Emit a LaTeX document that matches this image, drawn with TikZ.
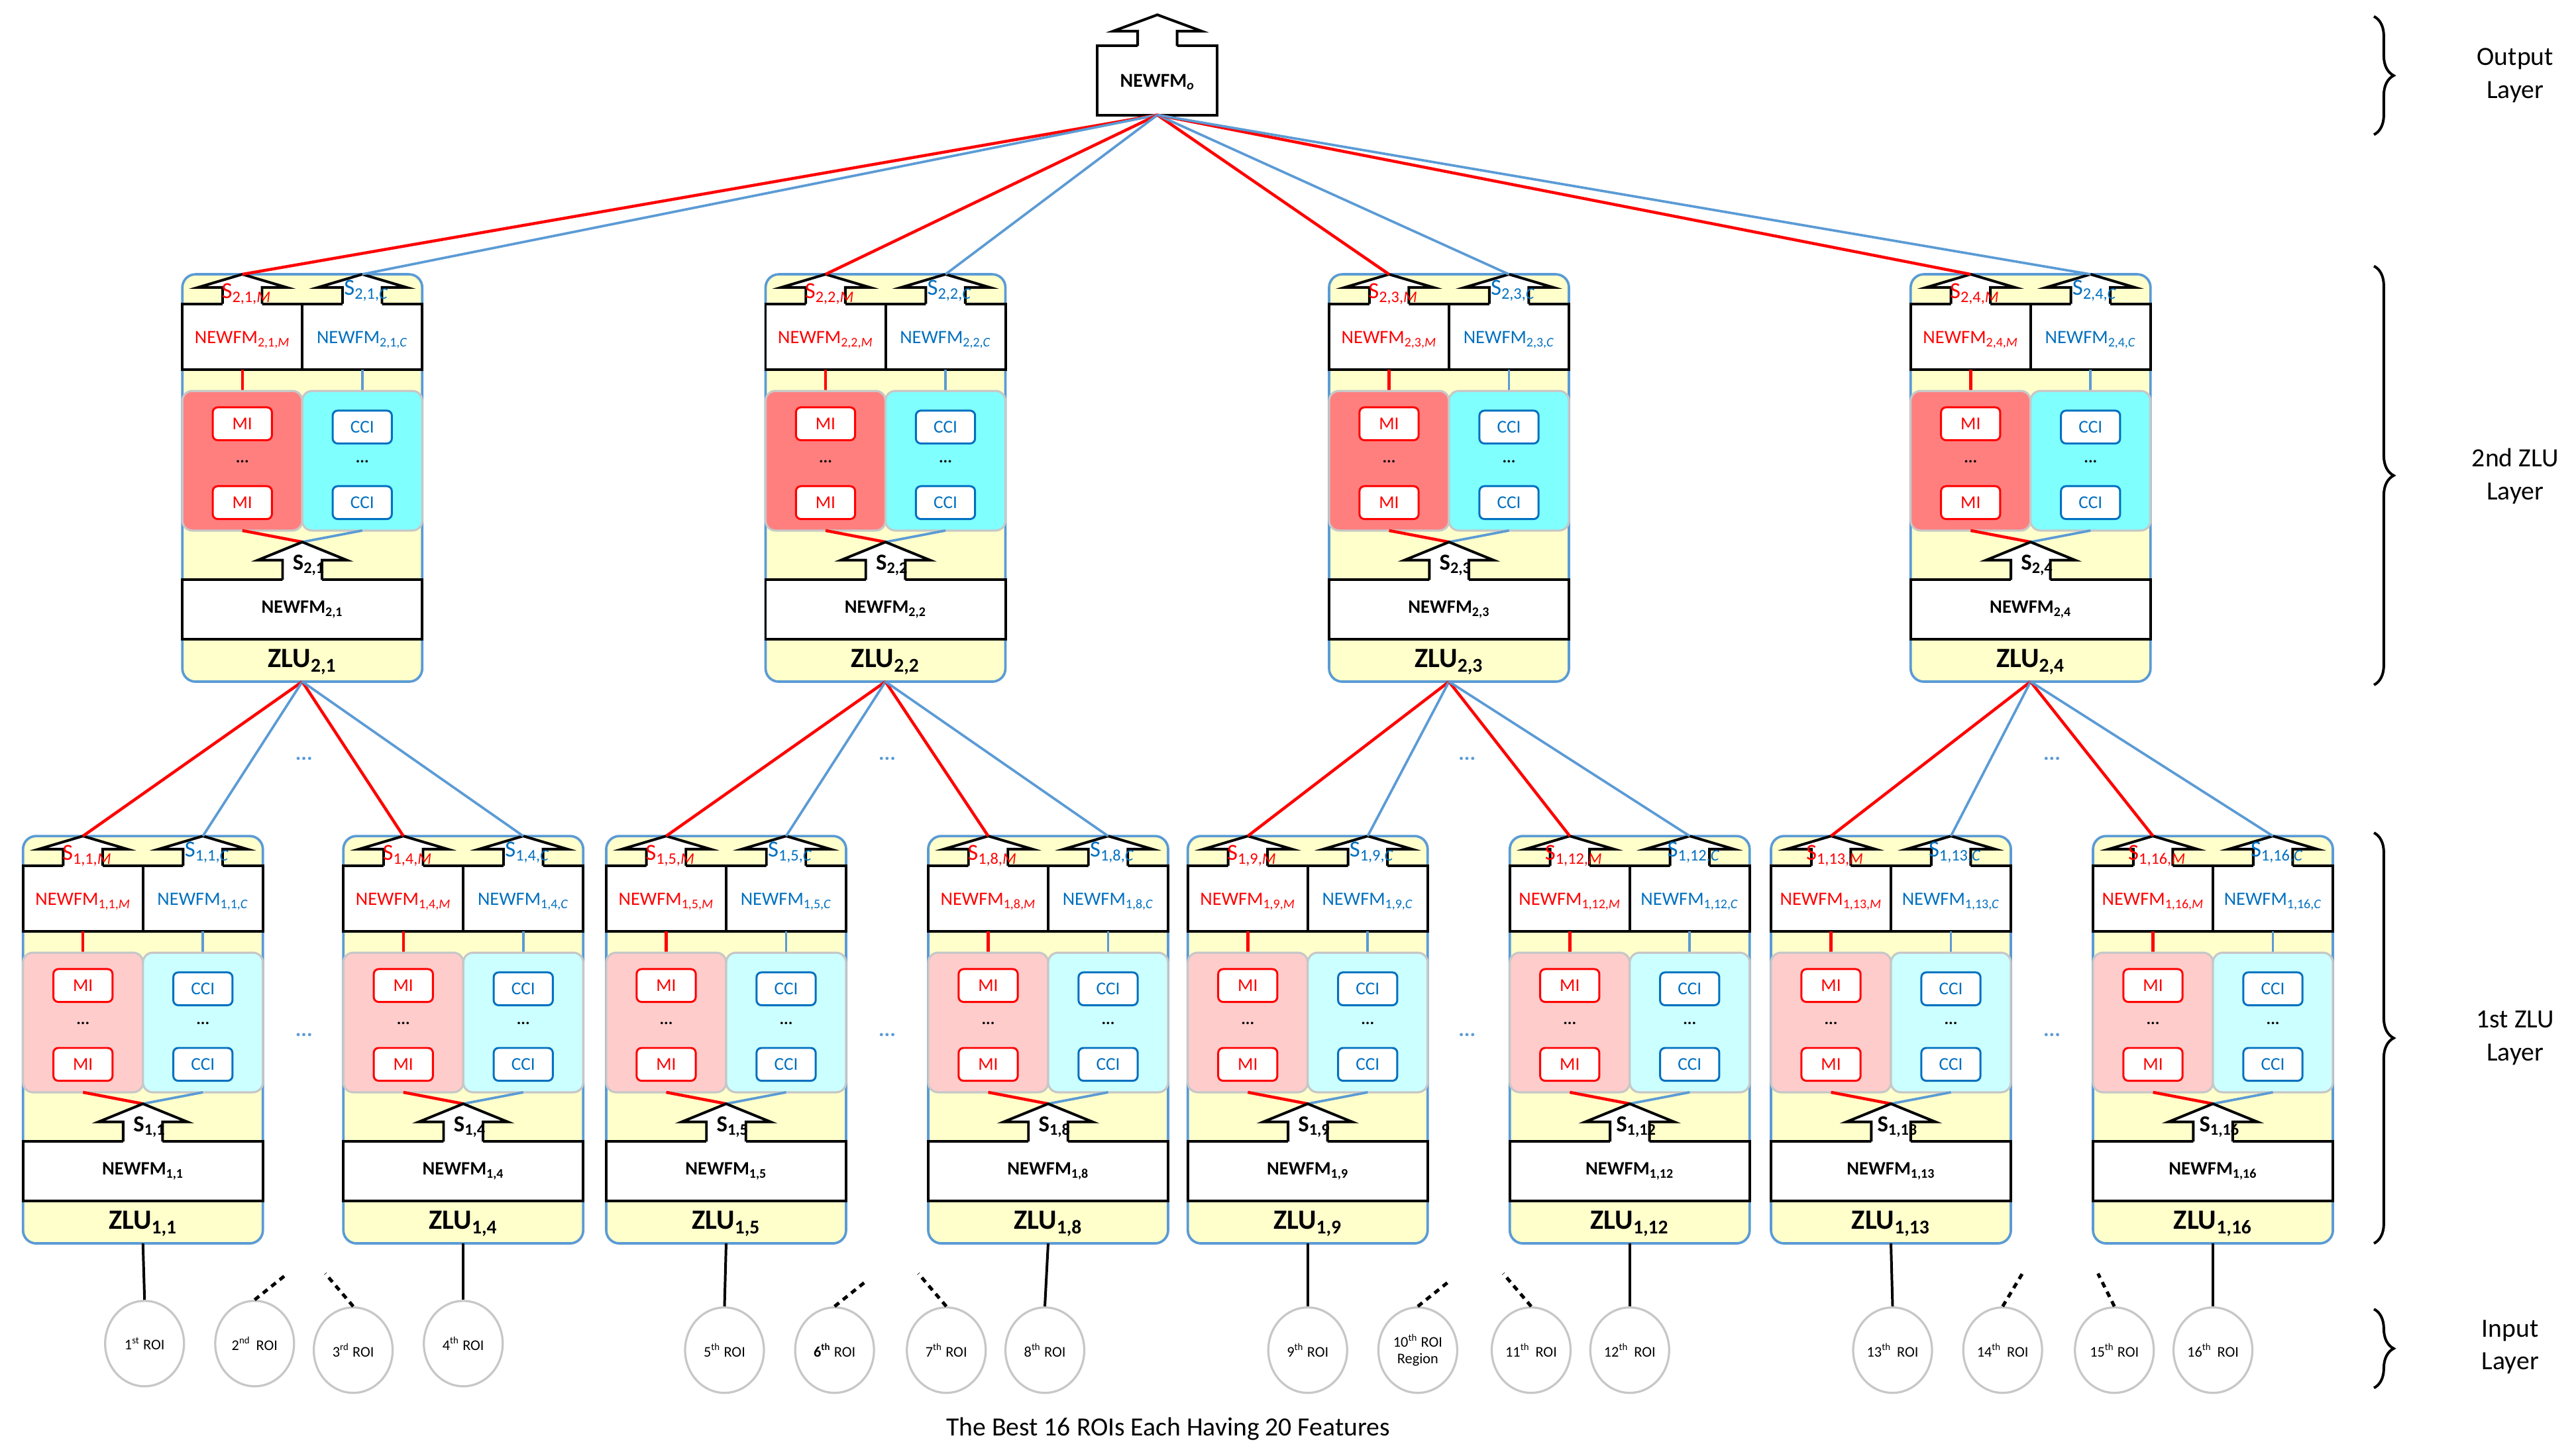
\documentclass[tikz,border=0pt]{standalone}
\usepackage{fontspec}
\setmainfont{Carlito}
\usetikzlibrary{decorations.pathreplacing,shapes.geometric}
\definecolor{myred}{HTML}{FF0000}
\definecolor{myblue}{HTML}{0070C0}
\definecolor{lineblue}{HTML}{5B9BD5}
\definecolor{zyellow}{HTML}{FFFFCC}
\definecolor{pinkA}{HTML}{FFCCCC}
\definecolor{cyanA}{HTML}{CCFFFF}
\definecolor{pinkB}{HTML}{FF7F7F}
\definecolor{cyanB}{HTML}{80FFFF}
\tikzset{
 unit/.style={draw=lineblue, fill=zyellow, line width=1.5pt, rounded corners=8pt},
 box/.style={draw=black, fill=white, line width=1.6pt},
 arrfill/.style={fill=white},
 arr/.style={draw=black, line width=1.6pt, line join=miter},
 panel/.style={draw=black!22, line width=1.3pt, rounded corners=6pt},
 mi/.style={draw=myred, fill=white, line width=1.2pt, rounded corners=3pt, minimum width=36pt, minimum height=20pt, text=myred, font=\fontsize{11}{11}\selectfont, inner sep=0pt},
 cci/.style={mi, draw=myblue, text=myblue},
 redl/.style={draw=myred, line width=1.8pt},
 bluel/.style={draw=lineblue, line width=1.5pt},
 ftxt/.style={font=\fontsize{11.5}{12}\selectfont, inner sep=0pt},
 stxt/.style={font=\fontsize{14}{14}\selectfont, inner sep=0pt},
 roi/.style={ellipse, draw=black!22, fill=white, line width=1.3pt, minimum width=48pt, minimum height=52pt, inner sep=0pt, font=\fontsize{9}{10}\selectfont, align=center},
 roil/.style={draw=black, line width=1.6pt},
 roid/.style={draw=black, line width=2pt, dash pattern=on 3.5pt off 3pt},
 dotsb/.style={text=lineblue, font=\fontsize{13}{13}\selectfont\bfseries},
 brc/.style={decorate, decoration={brace, amplitude=12pt}, line width=1.6pt},
 lay/.style={font=\fontsize{16}{20}\selectfont, align=center},
}
% #1 prefix, #2 left, #3 top, #4 pink, #5 cyan, #6 subscript
\newcommand\zluunit[6]{%
\begin{scope}[shift={(#2,#3)}]
 \draw[unit] (0,0) rectangle (146,248);
 \draw[box] (0,18) rectangle (73,58);
 \draw[box] (73,18) rectangle (146,58);
 \foreach \c in {36.5,109.5}{
  \fill[arrfill] (\c-12,19) -- (\c-12,8) -- (\c-27,8) -- (\c,0) -- (\c+27,8) -- (\c+12,8) -- (\c+12,19) -- cycle;
  \draw[arr] (\c-12,18) -- (\c-12,8) -- (\c-27,8) -- (\c,0) -- (\c+27,8) -- (\c+12,8) -- (\c+12,18);
 }
 \coordinate (#1-M) at (36.5,0);
 \coordinate (#1-C) at (109.5,0);
 \node[stxt, text=myred] (#1-sm) at (39,12) {S\textsubscript{#6,\textit{M}}};
 \node[stxt, text=myblue] (#1-sc) at (112,10) {S\textsubscript{#6,\textit{C}}};
 \node[ftxt, text=myred] (#1-nm) at (36.5,40) {NEWFM\textsubscript{#6,\textit{M}}};
 \node[ftxt, text=myblue] (#1-nc) at (109.5,40) {NEWFM\textsubscript{#6,\textit{C}}};
 \draw[redl] (36.5,58) -- (36.5,71);
 \draw[bluel] (109.5,58) -- (109.5,71);
 \draw[panel, fill=#4] (0,71) rectangle (73,156);
 \draw[panel, fill=#5] (73,71) rectangle (146,156);
 \node[mi] (#1-mi1) at (36.5,91) {MI};
 \node[mi] (#1-mi2) at (36.5,139) {MI};
 \node[font=\bfseries] (#1-md) at (36.5,114) {...};
 \node[cci] (#1-cc1) at (109.5,93) {CCI};
 \node[cci] (#1-cc2) at (109.5,139) {CCI};
 \node[font=\bfseries] (#1-cd) at (109.5,114) {...};
 \draw[redl] (36.5,156) -- (73,163);
 \draw[bluel] (109.5,156) -- (73,163);
 \draw[box] (0,186) rectangle (146,222);
 \fill[arrfill] (61,187) -- (61,174) -- (46,174) -- (73,163) -- (100,174) -- (85,174) -- (85,187) -- cycle;
 \draw[arr] (61,186) -- (61,174) -- (46,174) -- (73,163) -- (100,174) -- (85,174) -- (85,186);
 \node[stxt, font=\fontsize{14}{14}\selectfont\bfseries] (#1-s) at (77,177) {S\textsubscript{#6}};
 \node[ftxt, font=\fontsize{11.5}{12}\selectfont\bfseries] (#1-n) at (73,204) {NEWFM\textsubscript{#6}};
 \node[font=\fontsize{17}{17}\selectfont\bfseries, inner sep=0pt] (#1-z) at (73,236) {ZLU\textsubscript{#6}};
 \coordinate (#1-bot) at (73,248);
\end{scope}}
\begin{document}
\begin{tikzpicture}[x=1pt,y=-1pt]
\useasboundingbox (0,0) rectangle (1568,885);
% output node
\draw[box] (668,28) rectangle (741,70);
\fill[arrfill] (692.5,29) -- (692.5,19) -- (677.5,19) -- (704.5,9) -- (731.5,19) -- (716.5,19) -- (716.5,29) -- cycle;
\draw[arr] (692.5,28) -- (692.5,19) -- (677.5,19) -- (704.5,9) -- (731.5,19) -- (716.5,19) -- (716.5,28);
\node[ftxt, font=\fontsize{12}{12}\selectfont\bfseries] (out) at (704.5,50) {NEWFM\textsubscript{\textit{o}}};
\coordinate (out-bot) at (704.5,70);
% layer 2
\zluunit{A}{111}{167}{pinkB}{cyanB}{2,1}
\zluunit{B}{466}{167}{pinkB}{cyanB}{2,2}
\zluunit{C}{809}{167}{pinkB}{cyanB}{2,3}
\zluunit{D}{1163}{167}{pinkB}{cyanB}{2,4}
% layer 1
\zluunit{a1}{14}{509}{pinkA}{cyanA}{1,1}
\zluunit{a4}{209}{509}{pinkA}{cyanA}{1,4}
\zluunit{a5}{369}{509}{pinkA}{cyanA}{1,5}
\zluunit{a8}{565}{509}{pinkA}{cyanA}{1,8}
\zluunit{a9}{723}{509}{pinkA}{cyanA}{1,9}
\zluunit{a12}{919}{509}{pinkA}{cyanA}{1,12}
\zluunit{a13}{1078}{509}{pinkA}{cyanA}{1,13}
\zluunit{a16}{1274}{509}{pinkA}{cyanA}{1,16}
% connectors
\foreach \p in {A,B,C,D}{
 \draw[redl] (out-bot) -- (\p-M);
 \draw[bluel] (out-bot) -- (\p-C);
}
\foreach \p/\a/\b in {A/a1/a4, B/a5/a8, C/a9/a12, D/a13/a16}{
 \draw[redl] (\p-bot) -- (\a-M);
 \draw[bluel] (\p-bot) -- (\a-C);
 \draw[redl] (\p-bot) -- (\b-M);
 \draw[bluel] (\p-bot) -- (\b-C);
}
% dots
\foreach \x [count=\i] in {185,540,893,1249}{
 \node[dotsb] (dt\i) at (\x,462) {...};
 \node[dotsb] (dm\i) at (\x,630) {...};
}
% ROIs
\node[roi] (r1) at (88,818) {1\textsuperscript{st} ROI};
\node[roi] (r2) at (155,818) {2\textsuperscript{nd}\, ROI};
\node[roi] (r3) at (215,822) {3\textsuperscript{rd} ROI};
\node[roi] (r4) at (282,818) {4\textsuperscript{th} ROI};
\node[roi] (r5) at (441,822) {5\textsuperscript{th} ROI};
\node[roi] (r6) at (508,822) {\textbf{6\textsuperscript{th}} ROI};
\node[roi] (r7) at (576,822) {7\textsuperscript{th} ROI};
\node[roi] (r8) at (636,822) {8\textsuperscript{th} ROI};
\node[roi] (r9) at (796,822) {9\textsuperscript{th} ROI};
\node[roi] (r10) at (863,822) {10\textsuperscript{th} ROI\\Region};
\node[roi] (r11) at (932,822) {11\textsuperscript{th}\, ROI};
\node[roi] (r12) at (992,822) {12\textsuperscript{th}\, ROI};
\node[roi] (r13) at (1152,822) {13\textsuperscript{th}\, ROI};
\node[roi] (r14) at (1219,822) {14\textsuperscript{th}\, ROI};
\node[roi] (r15) at (1287,822) {15\textsuperscript{th} ROI};
\node[roi] (r16) at (1347,822) {16\textsuperscript{th}\, ROI};
\foreach \u/\r in {a1/r1,a4/r4,a5/r5,a8/r8,a9/r9,a12/r12,a13/r13,a16/r16}{
 \draw[roil] (\u-bot) -- (\r.north);
}
\foreach \r/\dx/\dy in {r2/20/-16, r3/-17/-20, r6/20/-16, r7/-17/-20, r10/20/-16, r11/-17/-20, r14/12/-20, r15/-10/-20}{
 \coordinate (\r-e) at ([shift={(\dx,\dy)}]\r.north);
 \draw[roid] (\r.north) -- (\r-e);
}
\node[font=\fontsize{16}{16}\selectfont] (cap) at (711,870) {The Best 16 ROIs Each Having 20 Features};
% braces and layer labels
\draw[brc] (1445,10) -- (1445,82);
\node[lay] (l1) at (1531,46) {Output\\Layer};
\draw[brc] (1445,162) -- (1445,417);
\node[lay] (l2) at (1531,290) {2nd ZLU\\Layer};
\draw[brc] (1445,507) -- (1445,757);
\node[lay] (l3) at (1531,632) {1st ZLU\\Layer};
\draw[brc] (1445,797) -- (1445,845);
\node[lay] (l4) at (1528,820) {Input\\Layer};
\end{tikzpicture}
\end{document}
